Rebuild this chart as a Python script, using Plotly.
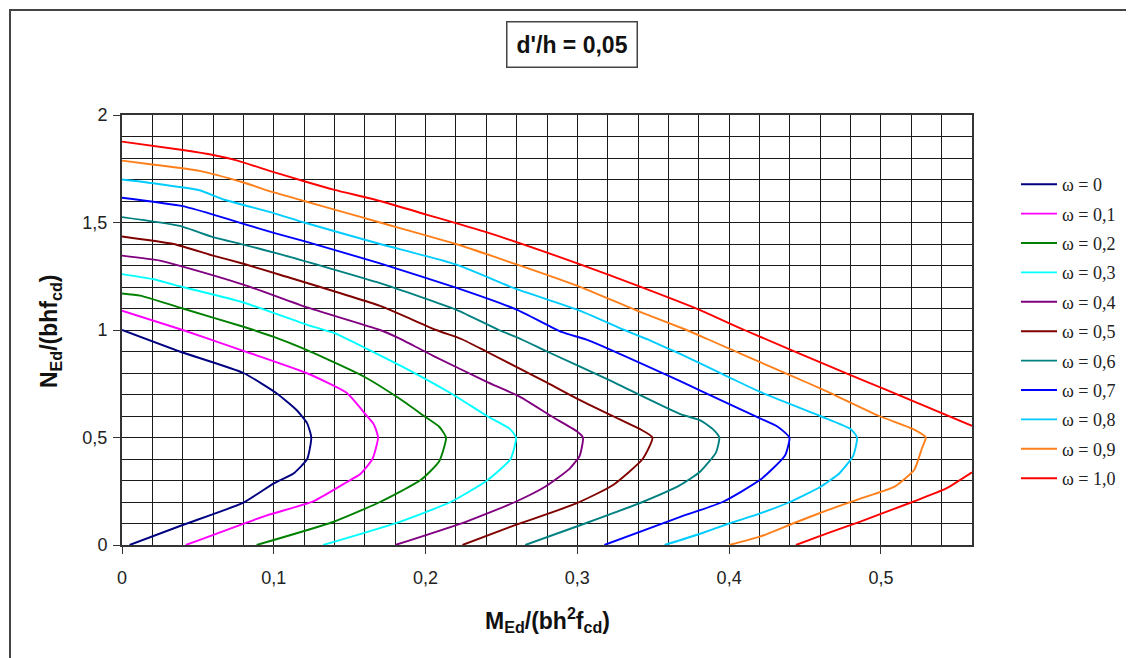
import plotly.graph_objects as go

# ---------------- data ----------------
omega_labels = ["ω = 0", "ω = 0,1", "ω = 0,2", "ω = 0,3", "ω = 0,4", "ω = 0,5",
                "ω = 0,6", "ω = 0,7", "ω = 0,8", "ω = 0,9", "ω = 1,0"]
line_colors = ["#000080", "#FF00FF", "#008000", "#00FFFF", "#800080", "#800000",
               "#008080", "#0000FF", "#00CCFF", "#FF7F1A", "#FF0000"]

M_w00 = [0, 0.038, 0.080, 0.102, 0.115, 0.122, 0.1247, 0.122, 0.113, 0.100, 0.080, 0.040, 0.005]
N_w00 = [1.0, 0.9, 0.8, 0.705, 0.628, 0.566, 0.5, 0.4, 0.333, 0.287, 0.197, 0.093, 0.0]

M_w01 = [0, 0.04, 0.078, 0.1215, 0.148, 0.161, 0.166, 0.1687, 0.165, 0.157, 0.148, 0.126, 0.095, 0.042]
N_w01 = [1.09, 1.0, 0.908, 0.8, 0.708, 0.603, 0.56, 0.5, 0.4, 0.33, 0.292, 0.203, 0.137, 0.0]

M_w02 = [0, 0.012, 0.04, 0.08, 0.10, 0.12, 0.159, 0.183, 0.199, 0.209, 0.2135, 0.209, 0.197, 0.17, 0.139, 0.0887]
N_w02 = [1.17, 1.16, 1.10, 1.015, 0.968, 0.912, 0.785, 0.68, 0.6, 0.55, 0.5, 0.39, 0.303, 0.2, 0.107, 0.0]

M_w03 = [0, 0.02, 0.04, 0.08, 0.122, 0.14, 0.162, 0.19, 0.218, 0.2405, 0.2555, 0.2596, 0.256, 0.2405, 0.2165, 0.183, 0.1325]
N_w03 = [1.26, 1.237, 1.2, 1.128, 1.024, 0.985, 0.91, 0.81, 0.7, 0.6, 0.54, 0.5, 0.4, 0.3, 0.2, 0.108, 0.0]

M_w04 = [0, 0.025, 0.04, 0.08, 0.122, 0.17, 0.183, 0.205, 0.24, 0.262, 0.2826, 0.2994, 0.3037, 0.3015, 0.2948, 0.279, 0.259, 0.2265, 0.18]
N_w04 = [1.346, 1.323, 1.295, 1.211, 1.105, 1.0, 0.96, 0.88, 0.76, 0.69, 0.6, 0.53, 0.5, 0.415, 0.354, 0.272, 0.2, 0.108, 0.0]

M_w05 = [0, 0.034, 0.06, 0.08, 0.104, 0.17, 0.207, 0.224, 0.24, 0.28, 0.30, 0.3233, 0.341, 0.3495, 0.343, 0.3233, 0.2989, 0.2589, 0.2243]
N_w05 = [1.435, 1.40, 1.346, 1.308, 1.257, 1.112, 1.0, 0.957, 0.9, 0.755, 0.68, 0.6, 0.54, 0.5, 0.4, 0.278, 0.192, 0.092, 0.0]

M_w06 = [0, 0.038, 0.06, 0.08, 0.104, 0.17, 0.22, 0.2483, 0.263, 0.28, 0.32, 0.3674, 0.381, 0.3891, 0.3935, 0.3913, 0.3804, 0.3674, 0.343, 0.305, 0.2657]
N_w06 = [1.525, 1.484, 1.432, 1.397, 1.353, 1.218, 1.095, 1.0, 0.957, 0.9, 0.77, 0.61, 0.58, 0.54, 0.5, 0.43, 0.338, 0.277, 0.2, 0.1, 0.0]

M_w07 = [0, 0.04, 0.06, 0.08, 0.10, 0.12, 0.17, 0.22, 0.26, 0.29, 0.306, 0.3674, 0.381, 0.42, 0.432, 0.4397, 0.4367, 0.4204, 0.3957, 0.3674, 0.3178]
N_w07 = [1.615, 1.576, 1.537, 1.494, 1.452, 1.413, 1.31, 1.197, 1.095, 0.99, 0.955, 0.763, 0.718, 0.59, 0.55, 0.5, 0.415, 0.303, 0.2, 0.13, 0.0]

M_w08 = [0, 0.02, 0.051, 0.067, 0.10, 0.12, 0.17, 0.22, 0.26, 0.30, 0.331, 0.346, 0.3674, 0.40, 0.4204, 0.46, 0.48, 0.4843,
         0.4817, 0.4727, 0.46, 0.44, 0.42, 0.40, 0.38, 0.3575]
N_w08 = [1.70, 1.683, 1.65, 1.607, 1.544, 1.50, 1.40, 1.305, 1.19, 1.095, 1.0, 0.957, 0.89, 0.78, 0.712, 0.6, 0.54, 0.5,
         0.415, 0.334, 0.27, 0.2, 0.146, 0.1, 0.05, 0.0]

M_w09 = [0, 0.02, 0.051, 0.08, 0.10, 0.12, 0.14, 0.17, 0.22, 0.26, 0.30, 0.34, 0.372, 0.386, 0.44, 0.4618, 0.4989, 0.521, 0.5295,
         0.527, 0.522, 0.5087, 0.486, 0.464, 0.442, 0.4207, 0.40]
N_w09 = [1.788, 1.77, 1.74, 1.686, 1.64, 1.6, 1.56, 1.5, 1.4, 1.305, 1.205, 1.088, 1.0, 0.957, 0.79, 0.723, 0.6, 0.54, 0.5,
         0.45, 0.35, 0.27, 0.215, 0.16, 0.1, 0.04, 0.0]

M_w10 = [0, 0.04, 0.06, 0.0755, 0.10, 0.12, 0.14, 0.17, 0.20, 0.24, 0.30, 0.34, 0.38, 0.41, 0.48, 0.5032, 0.56,
         None, 0.56, 0.5427, 0.5207, 0.486, 0.465, 0.444]
N_w10 = [1.876, 1.837, 1.814, 1.789, 1.734, 1.692, 1.652, 1.6, 1.538, 1.455, 1.31, 1.205, 1.095, 1.0, 0.79, 0.723, 0.554,
         None, 0.338, 0.262, 0.2, 0.108, 0.055, 0.0]

x_tickvals = [0, 0.1, 0.2, 0.3, 0.4, 0.5]
x_ticktext = ["0", "0,1", "0,2", "0,3", "0,4", "0,5"]
y_tickvals = [0, 0.5, 1, 1.5, 2]
y_ticktext = ["0", "0,5", "1", "1,5", "2"]

series_M = [M_w00, M_w01, M_w02, M_w03, M_w04, M_w05, M_w06, M_w07, M_w08, M_w09, M_w10]
series_N = [N_w00, N_w01, N_w02, N_w03, N_w04, N_w05, N_w06, N_w07, N_w08, N_w09, N_w10]

# ---------------- figure ----------------
fig = go.Figure()
for i, (mx, ny) in enumerate(zip(series_M, series_N)):
    fig.add_trace(go.Scatter(
        x=mx, y=ny, mode="lines", name=omega_labels[i],
        legendgroup=f"g{i}", connectgaps=False,
        line=dict(color=line_colors[i], width=1.9, shape="spline", smoothing=0.5),
    ))

grid_col = "#1a1a1a"
tick_font = dict(family="Liberation Sans, Arial", size=18, color="#222")
fig.update_xaxes(
    range=[0, 0.56], tickvals=x_tickvals, ticktext=x_ticktext,
    showgrid=True, gridcolor=grid_col, gridwidth=1.4,
    minor=dict(dtick=0.02, showgrid=True, gridcolor=grid_col, gridwidth=1.4, ticks=""),
    ticks="outside", ticklen=7, tickwidth=1.3, tickcolor="#333",
    ticklabelstandoff=8,
    showline=True, linecolor="#333", linewidth=2, mirror=True, zeroline=False,
    tickfont=tick_font,
)
fig.update_yaxes(
    range=[0, 2], tickvals=y_tickvals, ticktext=y_ticktext,
    showgrid=True, gridcolor=grid_col, gridwidth=1.4,
    minor=dict(dtick=0.1, showgrid=True, gridcolor=grid_col, gridwidth=1.4, ticks=""),
    ticks="outside", ticklen=7, tickwidth=1.3, tickcolor="#333",
    ticklabelstandoff=2,
    showline=True, linecolor="#333", linewidth=2, mirror=True, zeroline=False,
    tickfont=tick_font,
)

# page body has an 8px margin: work in reference pixels, shift by OFF
OFF = 8
W, H = 1134 - OFF, 658 - OFF
PL, PR, PT, PB = 122, 972, 115, 545          # plot-area edges in reference pixels
L, T = PL - OFF, PT - OFF
R = W - (PR - OFF)
B = H - (PB - OFF)
pw, ph = PR - PL, PB - PT

def rx(px):
    return (px - PL) / pw

def ry(py):
    return (PB - py) / ph

fig.update_layout(
    width=W, height=H,
    margin=dict(l=L, r=R, t=T, b=B),
    paper_bgcolor="white", plot_bgcolor="white",
    showlegend=True,
    legend=dict(
        x=rx(1016), y=ry(166), xanchor="left", yanchor="top",
        font=dict(family="Liberation Serif, Times New Roman", size=18, color="#222"),
        tracegroupgap=3, bgcolor="rgba(0,0,0,0)", itemwidth=36,
    ),
    shapes=[dict(
        type="rect", xref="paper", yref="paper",
        x0=rx(10), x1=rx(1131), y0=ry(700), y1=ry(10),
        line=dict(color="#444", width=2), fillcolor="rgba(0,0,0,0)", layer="below",
    )],
    annotations=[
        dict(text="<b>d'/h = 0,05</b>", xref="paper", yref="paper",
             x=rx(572), y=ry(45), xanchor="center", yanchor="middle",
             showarrow=False, font=dict(family="Liberation Sans, Arial", size=23, color="#111"),
             bordercolor="#444", borderwidth=1.5, borderpad=9, bgcolor="white"),
        dict(text="<b>M<sub>Ed</sub>/(bh<sup>2</sup>f<sub>cd</sub>)</b>", xref="paper", yref="paper",
             x=rx(547), y=ry(620), xanchor="center", yanchor="middle",
             showarrow=False, font=dict(family="Liberation Sans, Arial", size=23, color="#111")),
        dict(text="<b>N<sub>Ed</sub>/(bhf<sub>cd</sub>)</b>", xref="paper", yref="paper",
             x=rx(50), y=ry(332), xanchor="center", yanchor="middle",
             textangle=-90, showarrow=False,
             font=dict(family="Liberation Sans, Arial", size=23, color="#111")),
    ],
)

fig.write_html("out.html")
